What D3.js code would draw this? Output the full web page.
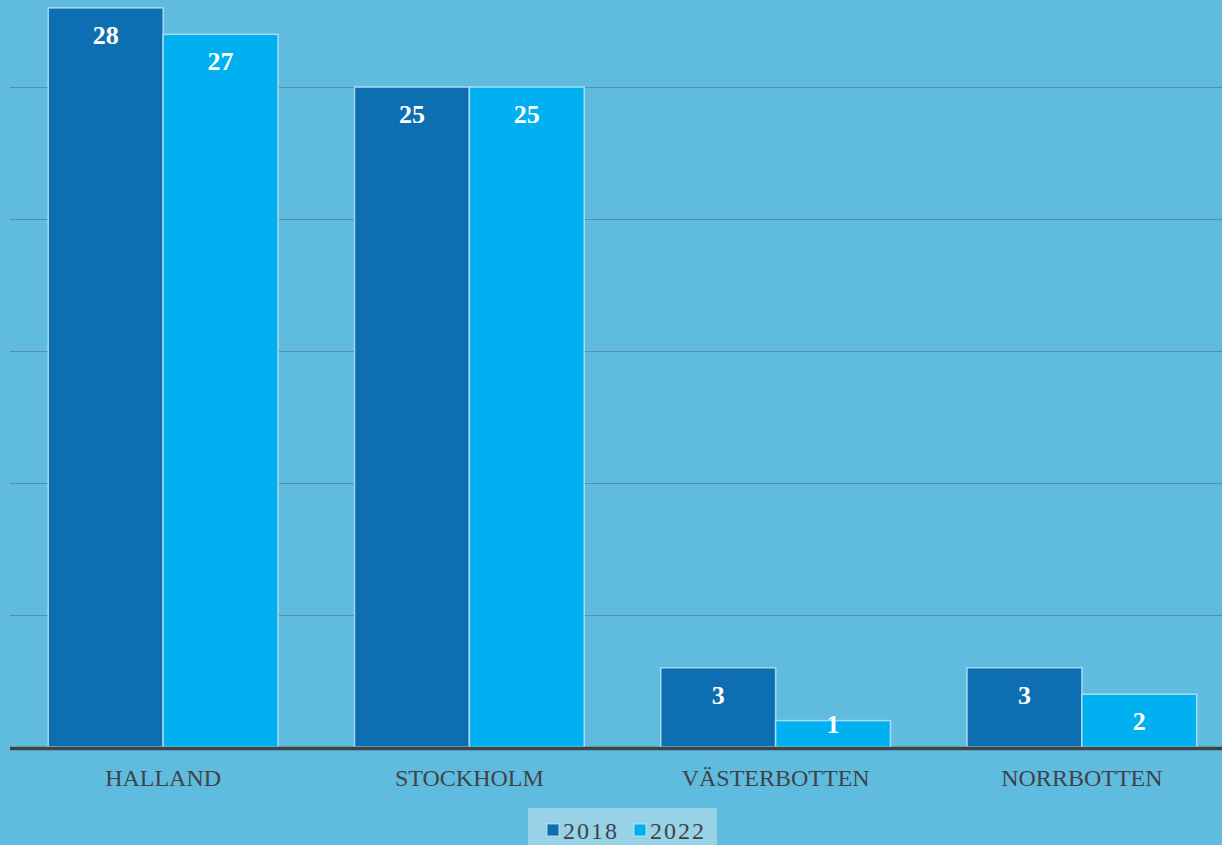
<!DOCTYPE html>
<html>
<head>
<meta charset="utf-8">
<script src="https://cdn.jsdelivr.net/npm/d3@7"></script>
<style>
  html, body { margin: 0; padding: 0; background: #60bcdf; overflow: hidden; }
  text { font-family: "Liberation Serif", "DejaVu Serif", serif; }
</style>
</head>
<body>
<div id="chart"></div>
<script>
var categories = ['HALLAND', 'STOCKHOLM', 'VÄSTERBOTTEN', 'NORRBOTTEN'],
  seriesNames = ['2018', '2022'],
  values2018 = [28, 25, 3, 3],
  values2022 = [27, 25, 1, 2],
  gridTicks = [5, 10, 15, 20, 25],
  colors = ['#0d6eb2', '#00b0f0'];

var width = 1222,
  height = 845,
  baseY = 747;

var svg = d3.select('#chart')
  .append('svg')
  .attr('width', width)
  .attr('height', height);

svg.append('rect')
  .attr('width', width)
  .attr('height', height)
  .style('fill', '#60bcdf');

var x0 = d3.scaleBand()
  .domain(categories)
  .range([10, 1235])
  .paddingInner(0.25)
  .paddingOuter(0.125);

var x1 = d3.scaleBand()
  .domain(seriesNames)
  .range([0, x0.bandwidth()]);

var y = d3.scaleLinear()
  .domain([0, 28.3])
  .range([baseY, 0]);

// gridlines
svg.append('g')
  .selectAll('line')
  .data(gridTicks)
  .enter()
  .append('line')
  .attr('x1', 10)
  .attr('x2', width)
  .attr('y1', function(d){ return Math.round(y(d)) + 0.5; })
  .attr('y2', function(d){ return Math.round(y(d)) + 0.5; })
  .style('stroke', '#5490ab')
  .style('stroke-width', 1);

var rows = categories.map(function(c, i){
  return { cat: c, vals: [values2018[i], values2022[i]] };
});

var groups = svg.append('g')
  .selectAll('g')
  .data(rows)
  .enter()
  .append('g')
  .attr('transform', function(d){ return 'translate(' + x0(d.cat) + ',0)'; });

groups.selectAll('rect')
  .data(function(d){ return d.vals.map(function(v, j){ return { s: seriesNames[j], v: v, j: j }; }); })
  .enter()
  .append('rect')
  .attr('x', function(d){ return x1(d.s); })
  .attr('y', function(d){ return y(d.v); })
  .attr('width', x1.bandwidth())
  .attr('height', function(d){ return baseY - y(d.v); })
  .style('fill', function(d){ return colors[d.j]; })
  .style('stroke', 'rgba(200,235,250,0.75)')
  .style('stroke-width', 1.5);

groups.selectAll('text')
  .data(function(d){ return d.vals.map(function(v, j){ return { s: seriesNames[j], v: v }; }); })
  .enter()
  .append('text')
  .attr('x', function(d){ return x1(d.s) + x1.bandwidth() / 2; })
  .attr('y', function(d){ return Math.min(y(d.v) + 27, baseY - 23); })
  .attr('dy', '0.35em')
  .attr('text-anchor', 'middle')
  .style('fill', '#ffffff')
  .style('font-weight', 'bold')
  .style('font-size', '26px')
  .text(function(d){ return d.v; });

// baseline
svg.append('line')
  .attr('x1', 10)
  .attr('x2', width)
  .attr('y1', baseY + 1.5)
  .attr('y2', baseY + 1.5)
  .style('stroke', '#3f4346')
  .style('stroke-width', 3.5);

// category labels
svg.append('g')
  .selectAll('text')
  .data(categories)
  .enter()
  .append('text')
  .attr('x', function(d){ return x0(d) + x0.bandwidth() / 2; })
  .attr('y', 786)
  .attr('text-anchor', 'middle')
  .style('fill', '#3f4346')
  .style('font-size', '24px')
  .text(function(d){ return d; });

// legend
var legend = svg.append('g');
legend.append('rect')
  .attr('x', 528)
  .attr('y', 808)
  .attr('width', 189)
  .attr('height', 40)
  .style('fill', '#98d2e6');

var legendX = [547, 634];
seriesNames.forEach(function(s, i){
  legend.append('rect')
    .attr('x', legendX[i])
    .attr('y', 824)
    .attr('width', 12)
    .attr('height', 12)
    .style('fill', colors[i])
    .style('stroke', 'rgba(200,235,250,0.8)')
    .style('stroke-width', 1);
  legend.append('text')
    .attr('x', legendX[i] + 16)
    .attr('y', 839)
    .attr('textLength', 54)
    .style('fill', '#3f4346')
    .style('font-size', '24px')
    .text(s);
});
</script>
</body>
</html>
